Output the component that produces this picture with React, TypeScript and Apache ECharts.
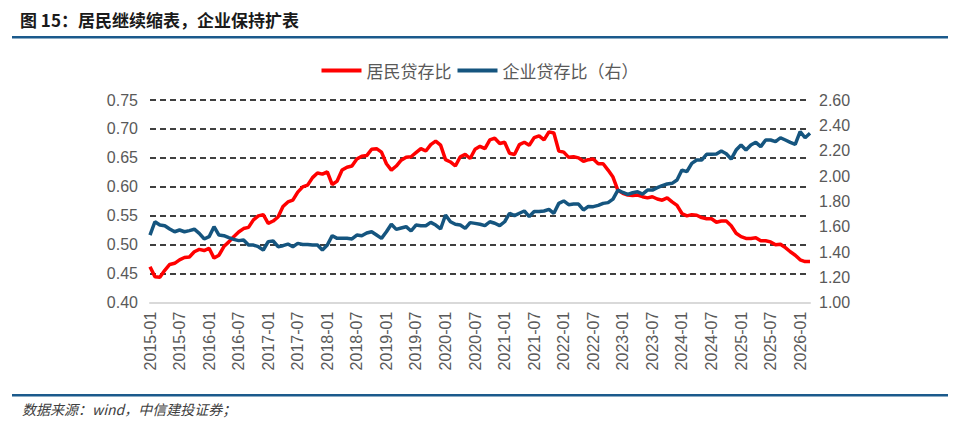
import React, { useEffect, useRef } from "react";
import * as echarts from "echarts";

const TITLE = "图 15：居民继续缩表，企业保持扩表";
const SOURCE = "数据来源：wind，中信建投证券；";
const SERIES_NAMES = ["居民贷存比", "企业贷存比（右）"];

// months 2015-01 .. 2026-03
const categories: string[] = [];
for (let y = 2015; y <= 2026; y++) {
  for (let m = 1; m <= 12; m++) {
    if (y === 2026 && m > 3) break;
    categories.push(`${y}-${m < 10 ? "0" + m : m}`);
  }
}

const householdRatio = [
  0.462, 0.445, 0.444, 0.456, 0.466, 0.468, 0.474, 0.478, 0.479, 0.488, 0.492, 0.490,
  0.494, 0.477, 0.482, 0.497, 0.505, 0.514, 0.522, 0.528, 0.530, 0.543, 0.550, 0.552,
  0.537, 0.541, 0.548, 0.566, 0.574, 0.577, 0.591, 0.600, 0.603, 0.616, 0.624, 0.622,
  0.626, 0.604, 0.610, 0.629, 0.634, 0.636, 0.648, 0.653, 0.654, 0.665, 0.666, 0.660,
  0.640, 0.629, 0.636, 0.646, 0.651, 0.652, 0.659, 0.666, 0.662, 0.673, 0.679, 0.672,
  0.647, 0.643, 0.636, 0.652, 0.656, 0.649, 0.665, 0.670, 0.666, 0.681, 0.684, 0.675,
  0.677, 0.658, 0.656, 0.673, 0.677, 0.672, 0.685, 0.688, 0.681, 0.695, 0.693, 0.662,
  0.660, 0.651, 0.652, 0.650, 0.644, 0.647, 0.648, 0.640, 0.640, 0.629, 0.617, 0.594,
  0.589, 0.586, 0.585, 0.586, 0.583, 0.581, 0.583, 0.579, 0.577, 0.581, 0.574, 0.568,
  0.554, 0.550, 0.552, 0.551, 0.547, 0.545, 0.545, 0.539, 0.541, 0.541, 0.533, 0.520,
  0.514, 0.511, 0.511, 0.512, 0.507, 0.507, 0.505, 0.500, 0.501, 0.495, 0.488, 0.482,
  0.474, 0.471, 0.471,
];

const corporateRatio = [
  1.534, 1.639, 1.613, 1.608, 1.582, 1.560, 1.574, 1.560, 1.569, 1.580, 1.548, 1.503,
  1.521, 1.600, 1.534, 1.529, 1.513, 1.500, 1.490, 1.495, 1.455, 1.455, 1.442, 1.416,
  1.482, 1.487, 1.442, 1.450, 1.463, 1.442, 1.468, 1.460, 1.460, 1.455, 1.455, 1.416,
  1.455, 1.529, 1.508, 1.508, 1.508, 1.503, 1.534, 1.529, 1.550, 1.560, 1.534, 1.508,
  1.560, 1.619, 1.579, 1.590, 1.600, 1.566, 1.613, 1.608, 1.608, 1.634, 1.613, 1.582,
  1.692, 1.639, 1.619, 1.613, 1.587, 1.632, 1.626, 1.619, 1.608, 1.639, 1.627, 1.608,
  1.639, 1.706, 1.687, 1.706, 1.724, 1.680, 1.720, 1.720, 1.724, 1.737, 1.706, 1.784,
  1.803, 1.774, 1.779, 1.779, 1.732, 1.760, 1.758, 1.768, 1.784, 1.790, 1.818, 1.889,
  1.870, 1.855, 1.868, 1.876, 1.857, 1.889, 1.889, 1.908, 1.924, 1.937, 1.942, 1.968,
  2.047, 2.034, 2.100, 2.126, 2.126, 2.171, 2.171, 2.174, 2.197, 2.176, 2.134, 2.205,
  2.245, 2.205, 2.245, 2.266, 2.232, 2.284, 2.284, 2.271, 2.302, 2.284, 2.266, 2.250,
  2.350, 2.302, 2.337,
];

const RED = "#ff0000";
const BLUE = "#15557f";
const LABEL = "#595959";
const RULE = "#1b5a8c";

export default function App() {
  const ref = useRef<HTMLDivElement>(null);
  useEffect(() => {
    if (!ref.current) return;
    const chart = echarts.init(ref.current, undefined, { renderer: "svg" });
    const font = "Arial, 'Liberation Sans', 'Noto Sans CJK SC', sans-serif";
    chart.setOption({
      animation: false,
      backgroundColor: "#ffffff",
      textStyle: { fontFamily: font },
      graphic: [
        {
          type: "text",
          left: 20,
          top: 11,
          style: {
            text: TITLE,
            fill: "#1a1a1a",
            font: "bold 17px 'Noto Sans CJK SC', sans-serif",
          },
        },
        { type: "rect", shape: { x: 12, y: 36, width: 936, height: 2.5 }, style: { fill: RULE } },
        { type: "rect", shape: { x: 12, y: 394, width: 936, height: 2.5 }, style: { fill: RULE } },
        {
          type: "text",
          left: 22,
          top: 402,
          style: {
            text: SOURCE,
            fill: "#404040",
            font: "italic 14px 'Noto Sans CJK SC', sans-serif",
          },
        },
      ],
      legend: {
        top: 57,
        left: "center",
        itemWidth: 40,
        itemHeight: 4,
        itemGap: 6,
        icon: "rect",
        textStyle: { color: LABEL, fontSize: 17, fontFamily: "'Noto Sans CJK SC', sans-serif" },
        data: SERIES_NAMES,
      },
      grid: { left: 150, right: 150, top: 100, bottom: 129.3, containLabel: false },
      xAxis: {
        type: "category",
        data: categories,
        boundaryGap: false,
        axisLine: { lineStyle: { color: "#d9d9d9", width: 2 } },
        axisTick: { show: false },
        axisLabel: {
          interval: 5,
          rotate: 90,
          color: LABEL,
          fontSize: 16,
          margin: 9,
          fontFamily: font,
        },
        splitLine: { show: false },
      },
      yAxis: [
        {
          type: "value",
          min: 0.4,
          max: 0.75,
          interval: 0.05,
          axisLine: { show: false },
          axisTick: { show: false },
          axisLabel: {
            color: LABEL,
            fontSize: 16,
            margin: 12,
            formatter: (v: number) => v.toFixed(2),
          },
          splitLine: { lineStyle: { color: "#000000", type: [6, 4], width: 1.5 } },
        },
        {
          type: "value",
          min: 1.0,
          max: 2.6,
          interval: 0.2,
          axisLine: { show: false },
          axisTick: { show: false },
          axisLabel: {
            color: LABEL,
            fontSize: 16,
            margin: 9,
            formatter: (v: number) => v.toFixed(2),
          },
          splitLine: { show: false },
        },
      ],
      series: [
        {
          name: SERIES_NAMES[0],
          type: "line",
          data: householdRatio,
          yAxisIndex: 0,
          symbol: "none",
          lineStyle: { color: RED, width: 3.5 },
          itemStyle: { color: RED },
        },
        {
          name: SERIES_NAMES[1],
          type: "line",
          data: corporateRatio,
          yAxisIndex: 1,
          symbol: "none",
          lineStyle: { color: BLUE, width: 3.5 },
          itemStyle: { color: BLUE },
        },
      ],
    });
    return () => chart.dispose();
  }, []);
  return (
    <div
      ref={ref}
      style={{ position: "absolute", left: 0, top: 0, width: 960, height: 432 }}
    />
  );
}
